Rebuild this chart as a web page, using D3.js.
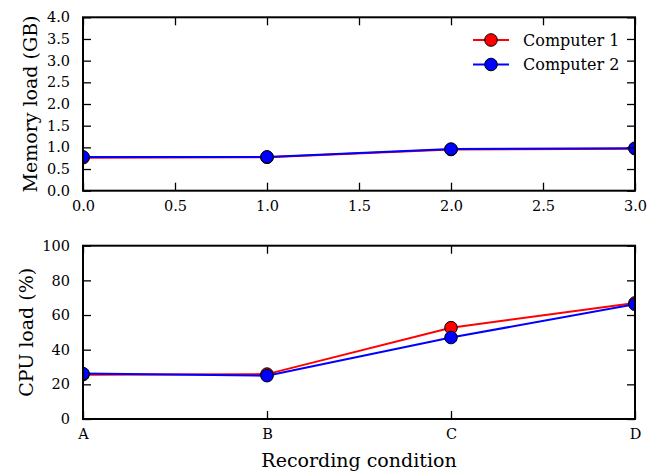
<!DOCTYPE html>
<html>
<head>
<meta charset="utf-8">
<script src="https://cdn.jsdelivr.net/npm/d3@7"></script>
<style>
  html, body { margin: 0; padding: 0; background: #fff; }
  svg { display: block; }
  text { font-family: "DejaVu Serif", "Liberation Serif", "Times New Roman", serif; fill: #000; }
</style>
</head>
<body>
<div id="chart"></div>
<script>
// ---- data ----
const memX = [0, 1, 2, 3];
const memTicks = [0, 0.5, 1, 1.5, 2, 2.5, 3];
const memYTicks = [0, 0.5, 1, 1.5, 2, 2.5, 3, 3.5, 4];
const memComputer1 = [0.76, 0.77, 0.95, 0.97];
const memComputer2 = [0.78, 0.78, 0.96, 0.98];

const categories = ["A", "B", "C", "D"];
const cpuYTicks = [0, 20, 40, 60, 80, 100];
const cpuComputer1 = [25.6, 25.9, 52.7, 67.0];
const cpuComputer2 = [26.2, 25.0, 47.0, 66.2];

const seriesNames = ["Computer 1", "Computer 2"];
const seriesColors = ["#ff0000", "#0000ff"];

// ---- layout ----
const W = 657, H = 472;
const left = 83, right = 635;
const FONT = '"DejaVu Serif", "Liberation Serif", "Times New Roman", serif';
const svg = d3.select("#chart").append("svg").attr("width", W).attr("height", H);

const TICK = 8;
const tickFont = 14.5, labelFont = 19, legendFont = 16;

function drawPanel(opts) {
  const { top, bottom, x, y, xTickVals, xFmt, yTickVals, yFmt, series, ylabel, clipId } = opts;
  const g = svg.append("g");

  svg.append("clipPath").attr("id", clipId)
    .append("rect").attr("x", left).attr("y", top).attr("width", right - left).attr("height", bottom - top);

  const plot = g.append("g").attr("clip-path", `url(#${clipId})`);
  series.forEach((s) => {
    const line = d3.line().x(d => x(d[0])).y(d => y(d[1]));
    const pts = s.xs.map((xv, k) => [xv, s.ys[k]]);
    plot.append("path").datum(pts).attr("d", line)
      .attr("fill", "none").attr("stroke", s.color).attr("stroke-width", 2);
    plot.selectAll(null).data(pts).enter().append("circle")
      .attr("cx", d => x(d[0])).attr("cy", d => y(d[1])).attr("r", 6.3)
      .attr("fill", s.color).attr("stroke", "#000").attr("stroke-width", 1);
  });

  const axB = d3.axisBottom(x).tickValues(xTickVals).tickSize(-TICK).tickPadding(TICK + 4).tickFormat(xFmt);
  const axT = d3.axisTop(x).tickValues(xTickVals).tickSize(-TICK).tickFormat("");
  const axL = d3.axisLeft(y).tickValues(yTickVals).tickSize(-TICK).tickPadding(TICK + 5).tickFormat(yFmt);
  const axR = d3.axisRight(y).tickValues(yTickVals).tickSize(-TICK).tickFormat("");

  const gb = g.append("g").attr("transform", `translate(0,${bottom})`).call(axB);
  const gt = g.append("g").attr("transform", `translate(0,${top})`).call(axT);
  const gl = g.append("g").attr("transform", `translate(${left},0)`).call(axL);
  const gr = g.append("g").attr("transform", `translate(${right},0)`).call(axR);
  [gb, gt, gl, gr].forEach(a => {
    a.attr("font-family", FONT).attr("font-size", tickFont);
    a.select(".domain").remove();
    a.selectAll(".tick line").attr("stroke", "#000").attr("stroke-width", 1.3);
    a.selectAll("text").attr("font-family", FONT).attr("font-size", tickFont).attr("fill", "#000");
  });
  gb.selectAll("text").attr("dy", "0.71em").attr("y", TICK + 2);

  g.append("rect").attr("x", left).attr("y", top).attr("width", right - left).attr("height", bottom - top)
    .attr("fill", "none").attr("stroke", "#000").attr("stroke-width", 2);

  g.append("text")
    .attr("transform", `translate(${opts.ylabelX},${(top + bottom) / 2}) rotate(-90)`)
    .attr("text-anchor", "middle").attr("dominant-baseline", "central")
    .attr("font-family", FONT).attr("font-size", labelFont).text(ylabel);
  return g;
}

// ---- top panel: memory ----
const xMem = d3.scaleLinear().domain([0, 3]).range([left, right]);
const yMem = d3.scaleLinear().domain([0, 4]).range([190.7, 17.3]);
drawPanel({
  top: 17.3, bottom: 190.7, x: xMem, y: yMem,
  xTickVals: memTicks, xFmt: d3.format(".1f"),
  yTickVals: memYTicks, yFmt: d3.format(".1f"),
  series: [
    { xs: memX, ys: memComputer1, color: seriesColors[0] },
    { xs: memX, ys: memComputer2, color: seriesColors[1] }
  ],
  ylabel: "Memory load (GB)", ylabelX: 30, clipId: "clipMem"
});

const legend = svg.append("g");
seriesNames.forEach((name, i) => {
  const ly = 40 + i * 24.5;
  legend.append("line").attr("x1", 473).attr("x2", 509).attr("y1", ly).attr("y2", ly)
    .attr("stroke", seriesColors[i]).attr("stroke-width", 2);
  legend.append("circle").attr("cx", 491).attr("cy", ly).attr("r", 6.3)
    .attr("fill", seriesColors[i]).attr("stroke", "#000").attr("stroke-width", 1);
  legend.append("text").attr("x", 523).attr("y", ly).attr("dominant-baseline", "central")
    .attr("font-family", FONT).attr("font-size", legendFont).text(name);
});

// ---- bottom panel: CPU ----
const xCpu = d3.scalePoint().domain(categories).range([left, right]);
const yCpu = d3.scaleLinear().domain([0, 100]).range([419, 245.7]);
drawPanel({
  top: 245.7, bottom: 419, x: xCpu, y: yCpu,
  xTickVals: categories, xFmt: d => d,
  yTickVals: cpuYTicks, yFmt: d3.format("d"),
  series: [
    { xs: categories, ys: cpuComputer1, color: seriesColors[0] },
    { xs: categories, ys: cpuComputer2, color: seriesColors[1] }
  ],
  ylabel: "CPU load (%)", ylabelX: 26, clipId: "clipCpu"
});

svg.append("text").attr("x", (left + right) / 2).attr("y", 467)
  .attr("text-anchor", "middle").attr("font-family", FONT).attr("font-size", labelFont).text("Recording condition");
</script>
</body>
</html>
